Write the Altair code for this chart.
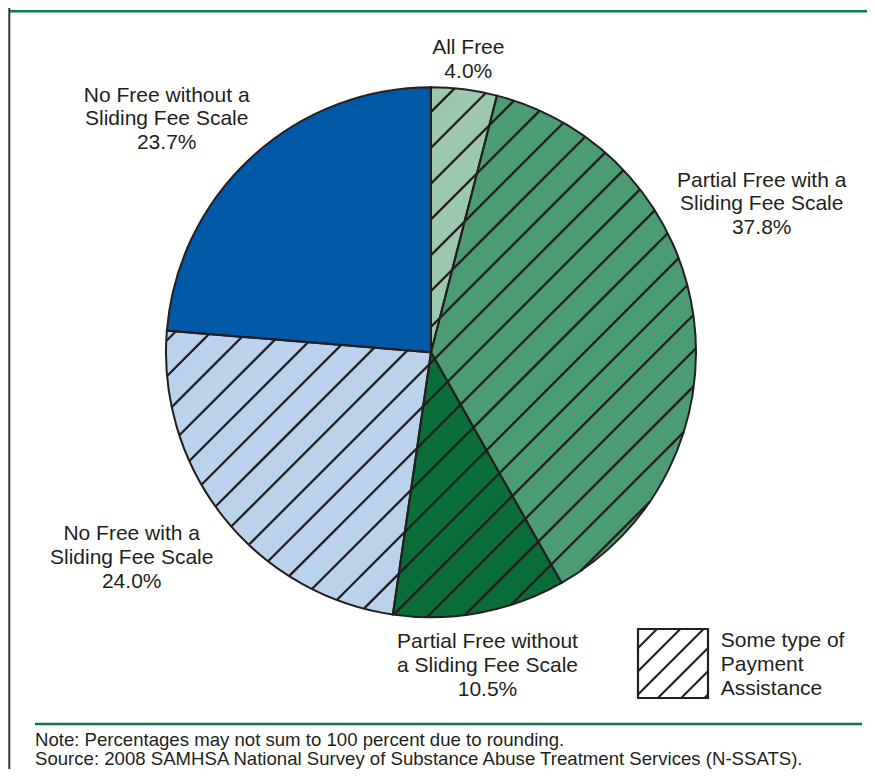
import altair as alt
import pandas as pd

# ---------------- data ----------------
categories = [
    "All Free",
    "Partial Free with a Sliding Fee Scale",
    "Partial Free without a Sliding Fee Scale",
    "No Free with a Sliding Fee Scale",
    "No Free without a Sliding Fee Scale",
]
values = [4.0, 37.8, 10.5, 24.0, 23.7]
payment_assistance = [True, True, True, True, False]
label_lines = [
    ["All Free"],
    ["Partial Free with a", "Sliding Fee Scale"],
    ["Partial Free without", "a Sliding Fee Scale"],
    ["No Free with a", "Sliding Fee Scale"],
    ["No Free without a", "Sliding Fee Scale"],
]
legend_lines = ["Some type of", "Payment", "Assistance"]
note_lines = [
    "Note: Percentages may not sum to 100 percent due to rounding.",
    "Source: 2008 SAMHSA National Survey of Substance Abuse Treatment Services (N-SSATS).",
]

# ---------------- styles / layout ----------------
slice_colors = ["#9cc8af", "#4b9b73", "#0a6c37", "#bad2eb", "#0059a6"]
ink = "#231f20"
green = "#0a7a45"
font = "Liberation Sans"
W, H = 859, 761
CX, CY, R = 423, 344.3, 265
label_pos = [(460.3, 46), (753.7, 178.7), (479.5, 640.3), (123.7, 532), (158.7, 93.7)]
legend_box = (630, 700, 621, 690)
PIE_HATCH_SPACING, PIE_HATCH_PHASE = 35.8, 10.3     # spacing along x+y, offset from centre
LEG_HATCH_SPACING, LEG_HATCH_PHASE = 23.3, 19.0
HATCH_WIDTH = 2.3

df = pd.DataFrame({
    "category": categories,
    "value": values,
    "assist": payment_assistance,
    "order": list(range(len(categories))),
})
total = float(sum(values))

theta_scale = alt.Scale(domain=[0, total])
color_scale = alt.Scale(domain=categories, range=slice_colors)
xs = alt.Scale(domain=[0, W], range=[0, W])
ys = alt.Scale(domain=[0, H], range=[0, H])

base = alt.Chart(df).transform_window(
    t1="sum(value)", sort=[alt.SortField("order")]
).transform_calculate(t0="datum.t1 - datum.value")

arc_enc = dict(
    theta=alt.Theta("t0:Q", scale=theta_scale),
    theta2="t1:Q",
    x=alt.value(CX),
    y=alt.value(CY),
)

fills = base.mark_arc(outerRadius=R, strokeWidth=0).encode(
    color=alt.Color("category:N", scale=color_scale, legend=None), **arc_enc
)

# hatch chords across the pie: lines x + y = const, clipped to the circle
n_lines = int(R * 1.5 / PIE_HATCH_SPACING) + 2
pie_hatch = (
    alt.Chart(alt.sequence(start=-n_lines, stop=n_lines + 1, as_="i"))
    .transform_calculate(k=f"{PIE_HATCH_PHASE} + datum.i * {PIE_HATCH_SPACING}")
    .transform_filter(f"abs(datum.k) < {R} * sqrt(2) - 1")
    .transform_calculate(d=f"sqrt(2 * {R} * {R} - datum.k * datum.k)")
    .transform_calculate(
        hx1=f"{CX} + (datum.k - datum.d) / 2",
        hy1=f"{CY} + (datum.k + datum.d) / 2",
        hx2=f"{CX} + (datum.k + datum.d) / 2",
        hy2=f"{CY} + (datum.k - datum.d) / 2",
    )
    .mark_rule(color=ink, strokeWidth=HATCH_WIDTH)
    .encode(
        x=alt.X("hx1:Q", scale=xs, axis=None),
        y=alt.Y("hy1:Q", scale=ys, axis=None),
        x2="hx2:Q",
        y2="hy2:Q",
    )
)

# slices without payment assistance are drawn plain on top of the hatch
plain = base.transform_filter("!datum.assist").mark_arc(outerRadius=R, strokeWidth=0).encode(
    color=alt.Color("category:N", scale=color_scale, legend=None), **arc_enc
)

outlines = base.mark_arc(outerRadius=R, fillOpacity=0, stroke=ink, strokeWidth=2).encode(**arc_enc)

# slice labels
lab_df = pd.DataFrame({
    "text": ["\n".join(l + [f"{v:.1f}%"]) for l, v in zip(label_lines, values)],
    "px": [p[0] for p in label_pos],
    "py": [p[1] for p in label_pos],
})
labels = alt.Chart(lab_df).mark_text(
    font=font, fontSize=21, color=ink, align="center", baseline="alphabetic",
    lineBreak="\n", lineHeight=23.8,
).encode(
    text="text:N",
    x=alt.X("px:Q", scale=xs, axis=None),
    y=alt.Y("py:Q", scale=ys, axis=None),
)

# legend: hatched box
lx1, lx2, ly1, ly2 = legend_box
lw, lh = lx2 - lx1, ly2 - ly1
leg_hatch = (
    alt.Chart(alt.sequence(start=-1, stop=int((lw + lh) / LEG_HATCH_SPACING) + 2, as_="i"))
    .transform_calculate(k=f"{LEG_HATCH_PHASE} + datum.i * {LEG_HATCH_SPACING}")
    .transform_filter(f"datum.k > 1 && datum.k < {lw + lh - 1}")
    .transform_calculate(
        hx1=f"{lx1} + max(0, datum.k - {lh})",
        hy1=f"{ly1} + min(datum.k, {lh})",
        hx2=f"{lx1} + min(datum.k, {lw})",
        hy2=f"{ly1} + max(0, datum.k - {lw})",
    )
    .mark_rule(color=ink, strokeWidth=2.1)
    .encode(
        x=alt.X("hx1:Q", scale=xs, axis=None),
        y=alt.Y("hy1:Q", scale=ys, axis=None),
        x2="hx2:Q",
        y2="hy2:Q",
    )
)
legend_rect = alt.Chart(pd.DataFrame({"k": [0]})).mark_rect(
    stroke=ink, strokeWidth=2.2, fillOpacity=0
).encode(x=alt.value(lx1), x2=alt.value(lx2), y=alt.value(ly1), y2=alt.value(ly2))
legend_label = alt.Chart(pd.DataFrame({"t": ["\n".join(legend_lines)]})).mark_text(
    font=font, fontSize=21, color=ink, align="left", baseline="alphabetic",
    lineBreak="\n", lineHeight=24,
).encode(text="t:N", x=alt.value(712.7), y=alt.value(638.7))

# note
note = alt.Chart(pd.DataFrame({"t": ["\n".join(note_lines)]})).mark_text(
    font=font, fontSize=18.6, color=ink, align="left", baseline="alphabetic",
    lineBreak="\n", lineHeight=19.5,
).encode(text="t:N", x=alt.value(27), y=alt.value(737.5))

# frame lines
frame_top = alt.Chart(pd.DataFrame({"k": [0]})).mark_rule(color=green, strokeWidth=2.6).encode(
    x=alt.value(2), x2=alt.value(W), y=alt.value(3.2))
frame_left = alt.Chart(pd.DataFrame({"k": [0]})).mark_rule(color="#333333", strokeWidth=2).encode(
    x=alt.value(1.3), y=alt.value(0), y2=alt.value(H))
note_rule = alt.Chart(pd.DataFrame({"k": [0]})).mark_rule(color=green, strokeWidth=2.6).encode(
    x=alt.value(27), x2=alt.value(854), y=alt.value(716))

chart = alt.layer(
    fills, pie_hatch, plain, outlines, labels, leg_hatch, legend_rect, legend_label, note,
    frame_top, frame_left, note_rule,
).properties(
    width=W, height=H, padding=0, autosize=alt.AutoSizeParams(type="none"),
    background="white",
).configure_view(stroke=None)

chart.save("out.html", embed_options={"renderer": "svg", "actions": False})
